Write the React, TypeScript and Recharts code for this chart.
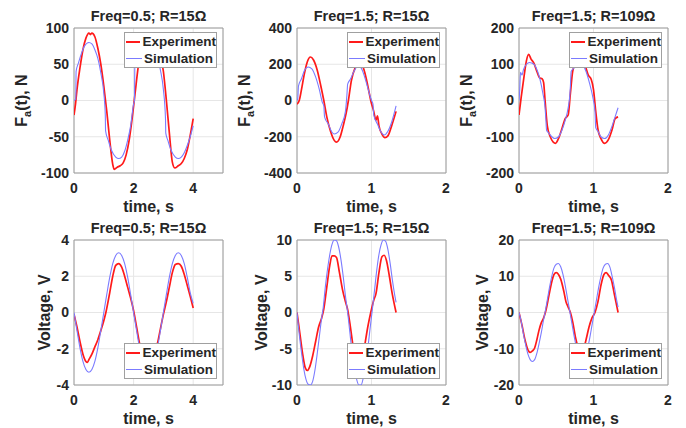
import React from 'react';
import { LineChart, Line, XAxis, YAxis, CartesianGrid, ReferenceArea, Label } from 'recharts';

type Pt = [number, number];

// tick labels
const slowTimeTicks = [0, 2, 4];
const fastTimeTicks = [0, 1, 2];
const forceTicksSlow = [-100, -50, 0, 50, 100];
const forceTicks15 = [-400, -200, 0, 200, 400];
const forceTicks109 = [-200, -100, 0, 100, 200];
const voltTicksSlow = [-4, -2, 0, 2, 4];
const voltTicks15 = [-10, -5, 0, 5, 10];
const voltTicks109 = [-20, -10, 0, 10, 20];

const panelTitles = ['Freq=0.5; R=15\u03A9', 'Freq=1.5; R=15\u03A9', 'Freq=1.5; R=109\u03A9'];

// force, freq 0.5, R=15
const forceExpSlow: Pt[] = [
  [0, -20], [0.05, -5], [0.1, 15], [0.2, 45], [0.3, 70], [0.4, 86], [0.5, 93], [0.55, 91], [0.6, 93],
  [0.7, 88], [0.8, 72], [0.9, 50], [1.0, 20], [1.1, -15], [1.2, -55], [1.3, -88], [1.35, -95], [1.45, -92],
  [1.55, -90], [1.65, -86], [1.75, -75], [1.85, -55], [1.95, -25], [2.05, 10], [2.15, 45], [2.3, 80],
  [2.45, 93], [2.55, 93], [2.7, 85], [2.85, 70], [3.0, 40], [3.1, 0], [3.2, -45], [3.3, -85], [3.38, -93],
  [3.5, -90], [3.6, -87], [3.7, -80], [3.8, -68], [3.9, -48], [4.0, -25],
];
const forceSimSlow: Pt[] = [
  [0, 0], [0.06, 2], [0.07, 40], [0.15, 52], [0.25, 65], [0.35, 75], [0.5, 80], [0.6, 78], [0.7, 70],
  [0.8, 58], [0.9, 38], [1.0, 10], [1.05, -20], [1.06, -42], [1.15, -55], [1.25, -68], [1.4, -78],
  [1.5, -80], [1.6, -78], [1.7, -70], [1.8, -55], [1.9, -35], [2.0, -5], [2.03, 0], [2.04, 45],
  [2.1, 50], [2.2, 60], [2.3, 72], [2.5, 80], [2.7, 72], [2.8, 60], [2.9, 42], [3.0, 15], [3.07, -25],
  [3.08, -45], [3.15, -55], [3.25, -68], [3.4, -78], [3.5, -80], [3.6, -78], [3.7, -72], [3.8, -62],
  [3.9, -50], [4.0, -35],
];

// force, freq 1.5, R=15
const forceExp15: Pt[] = [
  [0, -20], [0.03, 0], [0.06, 60], [0.1, 150], [0.14, 215], [0.18, 240], [0.22, 225], [0.27, 170],
  [0.32, 80], [0.36, 0], [0.4, -90], [0.45, -170], [0.5, -220], [0.53, -230], [0.58, -200], [0.62, -140],
  [0.66, -70], [0.69, 0], [0.73, 110], [0.78, 180], [0.83, 205], [0.88, 190], [0.93, 120], [0.97, 40],
  [0.99, 0], [1.03, -60], [1.06, -110], [1.08, -85], [1.1, -140], [1.14, -185], [1.18, -205],
  [1.22, -195], [1.27, -140], [1.33, -60],
];
const forceSim15: Pt[] = [
  [0, 0], [0.01, 10], [0.02, 80], [0.06, 120], [0.1, 165], [0.15, 185], [0.2, 175], [0.25, 130],
  [0.3, 60], [0.34, -10], [0.36, -30], [0.37, -90], [0.42, -130], [0.47, -175], [0.5, -185],
  [0.55, -175], [0.6, -130], [0.65, -60], [0.67, 30], [0.68, 90], [0.72, 120], [0.77, 165],
  [0.82, 190], [0.86, 180], [0.9, 140], [0.95, 70], [1.0, 0], [1.02, -20], [1.03, -80], [1.08, -130],
  [1.13, -175], [1.17, -190], [1.22, -170], [1.27, -120], [1.33, -30],
];

// force, freq 1.5, R=109
const forceExp109: Pt[] = [
  [0, -40], [0.03, 10], [0.07, 70], [0.1, 110], [0.13, 127], [0.16, 115], [0.2, 103], [0.24, 80],
  [0.28, 62], [0.31, 60], [0.33, 50], [0.35, 0], [0.38, -70], [0.42, -100], [0.46, -115], [0.49, -118],
  [0.53, -105], [0.58, -75], [0.62, -50], [0.66, -40], [0.69, 20], [0.72, 80], [0.76, 105], [0.8, 120],
  [0.85, 110], [0.89, 95], [0.93, 70], [0.97, 58], [1.0, 30], [1.03, -30], [1.06, -80], [1.1, -105],
  [1.15, -118], [1.2, -108], [1.25, -80], [1.29, -50], [1.33, -45],
];
const forceSim109: Pt[] = [
  [0, 0], [0.01, 30], [0.02, 78], [0.04, 70], [0.06, 85], [0.1, 100], [0.14, 105], [0.2, 100],
  [0.25, 80], [0.28, 60], [0.32, 20], [0.35, -20], [0.36, -50], [0.37, -82], [0.4, -90], [0.44, -100],
  [0.48, -105], [0.53, -100], [0.58, -80], [0.62, -55], [0.66, -20], [0.68, 10], [0.69, 40], [0.7, 80],
  [0.74, 90], [0.8, 105], [0.85, 100], [0.9, 80], [0.95, 45], [0.99, 10], [1.02, -30], [1.03, -75],
  [1.06, -85], [1.1, -100], [1.15, -105], [1.2, -95], [1.25, -70], [1.29, -45], [1.33, -20],
];

// voltage, freq 0.5, R=15
const voltExpSlow: Pt[] = [
  [0, -0.1], [0.1, -0.8], [0.2, -1.6], [0.3, -2.3], [0.4, -2.7], [0.45, -2.75], [0.5, -2.6], [0.6, -2.3],
  [0.7, -1.9], [0.8, -1.5], [0.9, -1.0], [1.0, -0.45], [1.07, 0], [1.2, 1.1], [1.3, 2.0], [1.4, 2.6],
  [1.5, 2.7], [1.6, 2.5], [1.7, 2.0], [1.8, 1.4], [1.9, 0.8], [2.0, 0.1], [2.1, -0.8], [2.2, -1.7],
  [2.3, -2.4], [2.45, -2.75], [2.6, -2.5], [2.7, -2.1], [2.8, -1.7], [2.9, -0.9], [3.0, -0.1],
  [3.1, 0.6], [3.2, 1.4], [3.3, 2.2], [3.4, 2.65], [3.5, 2.7], [3.6, 2.55], [3.7, 2.1], [3.8, 1.5],
  [3.9, 0.9], [4.0, 0.25],
];
const voltSimSlow: Pt[] = [
  [0, 0], [0.1, -1.0], [0.2, -1.95], [0.3, -2.7], [0.4, -3.15], [0.5, -3.3], [0.6, -3.15], [0.7, -2.7],
  [0.8, -1.95], [0.9, -1.0], [1.0, 0], [1.1, 1.0], [1.2, 1.95], [1.3, 2.7], [1.4, 3.15], [1.5, 3.3],
  [1.6, 3.15], [1.7, 2.7], [1.8, 1.95], [1.9, 1.0], [2.0, 0], [2.1, -1.0], [2.2, -1.95], [2.3, -2.7],
  [2.4, -3.15], [2.5, -3.3], [2.6, -3.15], [2.7, -2.7], [2.8, -1.95], [2.9, -1.0], [3.0, 0], [3.1, 1.0],
  [3.2, 1.95], [3.3, 2.7], [3.4, 3.15], [3.5, 3.3], [3.6, 3.15], [3.7, 2.7], [3.8, 1.95], [3.9, 1.1],
  [4.0, 0.5],
];

// voltage, freq 1.5, R=15
const voltExp15: Pt[] = [
  [0, 0], [0.04, -3], [0.08, -6], [0.11, -7.6], [0.14, -8], [0.17, -7.5], [0.21, -6], [0.25, -4],
  [0.29, -2], [0.33, -0.8], [0.36, 0.5], [0.4, 3.5], [0.44, 6.5], [0.47, 7.8], [0.5, 7.8], [0.53, 7.6],
  [0.57, 5.5], [0.61, 3.2], [0.65, 1.5], [0.68, 0.4], [0.71, -1.5], [0.75, -4.5], [0.79, -7.2],
  [0.83, -8], [0.87, -7], [0.91, -4.5], [0.95, -2], [0.99, 0], [1.03, 1.7], [1.06, 2.6], [1.1, 5.5],
  [1.14, 7.7], [1.17, 7.9], [1.2, 7.2], [1.24, 5], [1.28, 2.5], [1.33, 0],
];
const voltSim15: Pt[] = [
  [0, 0], [0.03, -3], [0.06, -5.5], [0.09, -7.7], [0.12, -9.2], [0.15, -9.9], [0.18, -10], [0.21, -9.5],
  [0.24, -8], [0.27, -5.8], [0.3, -3.3], [0.33, -0.8], [0.35, 0.5], [0.38, 3.5], [0.41, 6], [0.44, 8],
  [0.47, 9.4], [0.5, 10], [0.53, 9.9], [0.56, 9], [0.59, 7.3], [0.62, 5], [0.65, 2.3], [0.68, 0],
  [0.71, -2.8], [0.74, -5.5], [0.77, -7.7], [0.8, -9.2], [0.83, -10], [0.86, -10], [0.89, -9],
  [0.92, -7.2], [0.95, -5], [0.98, -2.3], [1.01, 0.3], [1.04, 3], [1.07, 5.8], [1.1, 8], [1.13, 9.4],
  [1.16, 10], [1.19, 9.8], [1.22, 8.7], [1.25, 6.8], [1.28, 4.5], [1.31, 2.5], [1.33, 1.4],
];

// voltage, freq 1.5, R=109
const voltExp109: Pt[] = [
  [0, 0], [0.04, -3.5], [0.08, -7.5], [0.12, -10.3], [0.15, -11], [0.18, -10.6], [0.21, -9.8],
  [0.24, -7.5], [0.27, -4.8], [0.3, -2.8], [0.33, -1.5], [0.36, 0.5], [0.4, 4.5], [0.44, 8.5],
  [0.47, 10.5], [0.5, 11], [0.53, 10.5], [0.56, 9.2], [0.6, 6], [0.63, 3], [0.66, 1.5], [0.69, 0],
  [0.72, -2.5], [0.76, -7], [0.8, -10], [0.83, -11], [0.86, -10.5], [0.9, -7.5], [0.94, -4],
  [0.98, -1.5], [1.02, 0], [1.06, 3], [1.1, 7.5], [1.14, 10.5], [1.17, 11], [1.2, 10.3], [1.24, 9],
  [1.28, 5], [1.33, 0],
];
const voltSim109: Pt[] = [
  [0, 0], [0.03, -2.5], [0.06, -6], [0.09, -9], [0.12, -11.5], [0.15, -13], [0.18, -13.5], [0.21, -13],
  [0.24, -11.2], [0.27, -8.5], [0.3, -5.5], [0.33, -2], [0.35, 0], [0.38, 3.5], [0.41, 7], [0.44, 10],
  [0.47, 12.3], [0.5, 13.3], [0.53, 13.5], [0.56, 12.6], [0.59, 10.5], [0.62, 7.5], [0.65, 4],
  [0.68, 0.5], [0.71, -3], [0.74, -6.5], [0.77, -9.5], [0.8, -12], [0.83, -13.3], [0.86, -13.5],
  [0.89, -12.5], [0.92, -10], [0.95, -7], [0.98, -3.5], [1.01, 0], [1.04, 3.5], [1.07, 7], [1.1, 10],
  [1.13, 12.3], [1.16, 13.3], [1.19, 13.5], [1.22, 12.5], [1.25, 10], [1.28, 7], [1.31, 3.5], [1.33, 1.5],
];

const FONT = '"Liberation Sans", Arial, sans-serif';
const TEXT = '#262626';
const EXP_COLOR = '#ff1a1a';
const SIM_COLOR = '#7b7bff';

// chart geometry (plot area is 149 x 145)
const PL = 64;
const PT = 28;
const PW = 149;
const PH = 145;
const W = PL + PW + 8;
const H = PT + PH + 42;

const toRows = (pts: Pt[]) => pts.map(([t, v]) => ({ t, v }));

interface PanelProps {
  left: number;
  top: number;
  title: string;
  force: boolean;
  yLabelGap: number;
  xMax: number;
  xTicks: number[];
  yTicks: number[];
  exp: Pt[];
  sim: Pt[];
  legendTop: number;
}

const LegendBox = ({ top }: { top: number }) => (
  <div
    style={{
      position: 'absolute',
      left: PL + 50,
      top,
      width: 93,
      height: 36,
      border: '1px solid #a0a0a0',
      background: '#fff',
      fontFamily: FONT,
      fontWeight: 'bold',
      fontSize: 13.5,
      color: TEXT,
      boxSizing: 'border-box',
    }}
  >
    {[
      { name: 'Experiment', color: EXP_COLOR, w: 2 },
      { name: 'Simulation', color: SIM_COLOR, w: 1.5 },
    ].map((it) => (
      <div key={it.name} style={{ display: 'flex', alignItems: 'center', height: 17, whiteSpace: 'nowrap' }}>
        <div style={{ width: 16, height: 0, borderTop: `${it.w}px solid ${it.color}`, marginLeft: 1, marginRight: 2 }} />
        <span style={{ lineHeight: '17px' }}>{it.name}</span>
      </div>
    ))}
  </div>
);

const Panel = ({ left, top, title, force, yLabelGap, xMax, xTicks, yTicks, exp, sim, legendTop }: PanelProps) => {
  const yMin = yTicks[0];
  const yMax = yTicks[yTicks.length - 1];
  const tickStyle = { fill: TEXT, fontSize: 14, fontWeight: 'bold', fontFamily: FONT };
  const lx = PL - yLabelGap;
  const ly = PT + PH / 2;

  return (
    <div style={{ position: 'absolute', left, top, width: W, height: H }}>
      <div
        style={{
          position: 'absolute',
          left: PL,
          top: 8,
          width: PW,
          textAlign: 'center',
          fontFamily: FONT,
          fontWeight: 'bold',
          fontSize: 14.5,
          lineHeight: '16px',
          color: TEXT,
          whiteSpace: 'nowrap',
        }}
      >
        {title}
      </div>
      <LineChart width={W} height={H} margin={{ top: PT, right: 8, bottom: 0, left: 0 }}>
        <CartesianGrid stroke="#e6e6e6" />
        <XAxis
          type="number"
          dataKey="t"
          domain={[0, xMax]}
          ticks={xTicks}
          allowDataOverflow
          height={42}
          axisLine={false}
          tickLine={false}
          tickSize={3}
          tickMargin={7}
          tick={tickStyle}
        >
          <Label
            content={() => (
              <text
                x={PL + PW / 2}
                y={PT + PH + 38.5}
                textAnchor="middle"
                fill={TEXT}
                fontSize={16}
                fontWeight="bold"
                fontFamily={FONT}
              >
                time, s
              </text>
            )}
          />
        </XAxis>
        <YAxis
          type="number"
          domain={[yMin, yMax]}
          ticks={yTicks}
          allowDataOverflow
          width={PL}
          axisLine={false}
          tickLine={false}
          tickSize={3}
          tickMargin={2}
          tick={tickStyle}
        >
          <Label
            content={() => (
              <text
                x={lx}
                y={ly}
                transform={`rotate(-90 ${lx} ${ly})`}
                textAnchor="middle"
                fill={TEXT}
                fontSize={16}
                fontWeight="bold"
                fontFamily={FONT}
              >
                {force ? (
                  <>
                    <tspan>F</tspan>
                    <tspan dy={4} fontSize={11}>a</tspan>
                    <tspan dy={-4}>(t), N</tspan>
                  </>
                ) : (
                  'Voltage, V'
                )}
              </text>
            )}
          />
        </YAxis>
        <ReferenceArea x1={0} x2={xMax} y1={yMin} y2={yMax} fill="none" stroke="#9c9c9c" strokeWidth={1} />
        <Line
          data={toRows(exp)}
          dataKey="v"
          type="monotone"
          stroke={EXP_COLOR}
          strokeWidth={1.7}
          dot={false}
          isAnimationActive={false}
        />
        <Line
          data={toRows(sim)}
          dataKey="v"
          type="monotone"
          stroke={SIM_COLOR}
          strokeWidth={1.1}
          dot={false}
          isAnimationActive={false}
        />
      </LineChart>
      <LegendBox top={legendTop} />
    </div>
  );
};

const colLefts = [10, 233, 455];
const rowTops = [0, 212];

export default function App() {
  return (
    <div style={{ position: 'absolute', left: 0, top: 0, width: 686, height: 428, background: '#fff' }}>
      <Panel left={colLefts[0]} top={rowTops[0]} title={panelTitles[0]} force yLabelGap={47} xMax={5}
        xTicks={slowTimeTicks} yTicks={forceTicksSlow} exp={forceExpSlow} sim={forceSimSlow} legendTop={32} />
      <Panel left={colLefts[1]} top={rowTops[0]} title={panelTitles[1]} force yLabelGap={47} xMax={2}
        xTicks={fastTimeTicks} yTicks={forceTicks15} exp={forceExp15} sim={forceSim15} legendTop={32} />
      <Panel left={colLefts[2]} top={rowTops[0]} title={panelTitles[2]} force yLabelGap={47} xMax={2}
        xTicks={fastTimeTicks} yTicks={forceTicks109} exp={forceExp109} sim={forceSim109} legendTop={32} />
      <Panel left={colLefts[0]} top={rowTops[1]} title={panelTitles[0]} force={false} yLabelGap={24.5} xMax={5}
        xTicks={slowTimeTicks} yTicks={voltTicksSlow} exp={voltExpSlow} sim={voltSimSlow} legendTop={131} />
      <Panel left={colLefts[1]} top={rowTops[1]} title={panelTitles[1]} force={false} yLabelGap={30} xMax={2}
        xTicks={fastTimeTicks} yTicks={voltTicks15} exp={voltExp15} sim={voltSim15} legendTop={131} />
      <Panel left={colLefts[2]} top={rowTops[1]} title={panelTitles[2]} force={false} yLabelGap={31} xMax={2}
        xTicks={fastTimeTicks} yTicks={voltTicks109} exp={voltExp109} sim={voltSim109} legendTop={131} />
    </div>
  );
}
